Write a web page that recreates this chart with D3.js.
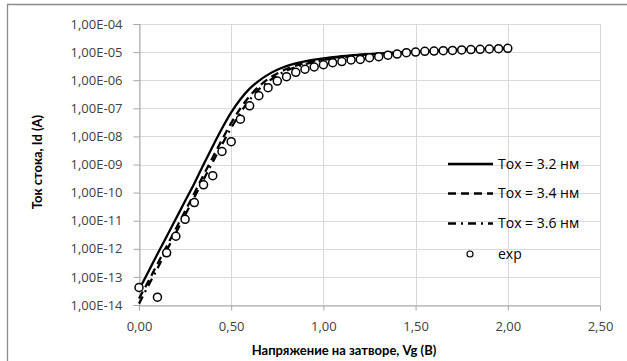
<!DOCTYPE html>
<html><head><meta charset="utf-8">
<script src="https://cdn.jsdelivr.net/npm/d3@7"></script>
<style>
html,body{margin:0;padding:0;background:#fff;}
svg{display:block;font-family:"Open Sans",Lato,sans-serif;}
</style></head>
<body><svg id="c" width="627" height="361"></svg>
<script>
// ---- data ----
const vg = [0.00,0.05,0.10,0.15,0.20,0.25,0.30,0.35,0.40,0.45,0.50,0.55,0.60,0.65,0.70,0.75,0.80,0.85,0.90,0.95,
            1.00,1.05,1.10,1.15,1.20,1.25,1.30,1.35,1.40,1.45,1.50,1.55,1.60,1.65,1.70,1.75,1.80,1.85,1.90,1.95,2.00];
const tox32 = [3.5e-14,1.5e-13,6.5e-13,2.75e-12,1.17e-11,5.0e-11,2.1e-10,1.0e-9,4.5e-9,1.9e-8,7.1e-8,2.1e-7,5.0e-7,9.5e-7,1.58e-6,2.35e-6,3.16e-6,3.98e-6,4.68e-6,5.37e-6,
               6.0e-6,6.6e-6,7.2e-6,7.7e-6,8.1e-6,8.5e-6,8.9e-6,9.3e-6,9.8e-6,1.01e-5,1.05e-5,1.08e-5,1.12e-5,1.15e-5,1.17e-5,1.20e-5,1.24e-5,1.27e-5,1.30e-5,1.33e-5,1.36e-5];
const tox34 = [1.7e-14,6.8e-14,2.9e-13,1.23e-12,5.2e-12,2.2e-11,9.5e-11,4.2e-10,1.8e-9,7.6e-9,3.0e-8,1.0e-7,2.7e-7,6.0e-7,1.1e-6,1.74e-6,2.5e-6,3.3e-6,4.1e-6,4.85e-6,
               5.55e-6,6.25e-6,6.85e-6,7.4e-6,7.95e-6,8.3e-6,8.7e-6,9.1e-6,9.55e-6,1.0e-5,1.035e-5,1.07e-5,1.11e-5,1.135e-5,1.16e-5,1.19e-5,1.23e-5,1.26e-5,1.29e-5,1.32e-5,1.35e-5];
const tox36 = [1.12e-14,4.8e-14,2.0e-13,8.7e-13,3.7e-12,1.58e-11,6.8e-11,2.9e-10,1.23e-9,5.1e-9,2.0e-8,6.9e-8,2.0e-7,4.7e-7,8.9e-7,1.48e-6,2.2e-6,2.95e-6,3.7e-6,4.45e-6,
               5.2e-6,5.9e-6,6.55e-6,7.1e-6,7.7e-6,8.1e-6,8.5e-6,8.9e-6,9.3e-6,9.8e-6,1.01e-5,1.05e-5,1.08e-5,1.12e-5,1.15e-5,1.17e-5,1.22e-5,1.245e-5,1.27e-5,1.30e-5,1.33e-5];
const expVg = [0.00,0.10,0.15,0.20,0.25,0.30,0.35,0.40,0.45,0.50,0.55,0.60,0.65,0.70,0.75,0.80,0.85,0.90,0.95,
               1.00,1.05,1.10,1.15,1.20,1.25,1.30,1.35,1.40,1.45,1.50,1.55,1.60,1.65,1.70,1.75,1.80,1.85,1.90,1.95,2.00];
const expId = [4.2e-14,1.9e-14,7.2e-13,2.8e-12,1.12e-11,4.4e-11,1.9e-10,4.0e-10,2.9e-9,6.5e-9,4.1e-8,1.23e-7,2.8e-7,5.4e-7,9.3e-7,1.33e-6,1.9e-6,2.45e-6,2.95e-6,
               3.55e-6,4.2e-6,4.6e-6,5.25e-6,5.5e-6,6.3e-6,6.9e-6,7.8e-6,8.5e-6,9.5e-6,1.0e-5,1.07e-5,1.09e-5,1.12e-5,1.15e-5,1.19e-5,1.23e-5,1.26e-5,1.29e-5,1.32e-5,1.36e-5];
const xTicks = [0,0.5,1.0,1.5,2.0,2.5];
const xTickLabels = ["0,00","0,50","1,00","1,50","2,00","2,50"];
const yTicks = [1e-14,1e-13,1e-12,1e-11,1e-10,1e-9,1e-8,1e-7,1e-6,1e-5,1e-4];
const yTickLabels = ["1,00E-14","1,00E-13","1,00E-12","1,00E-11","1,00E-10","1,00E-09","1,00E-08","1,00E-07","1,00E-06","1,00E-05","1,00E-04"];
const seriesNames = ["Tox = 3.2 нм","Tox = 3.4 нм","Tox = 3.6 нм","exp"];
const xTitle = "Напряжение на затворе, Vg (В)";
const yTitle = "Ток стока, Id (A)";

// ---- drawing ----
const svg = d3.select("#c");
const L = 139, R = 600, T = 24, B = 305;
const x = d3.scaleLinear().domain([0,2.5]).range([L,R]);
const y = d3.scaleLog().domain([1e-14,1e-4]).range([B,T]);

// outer frame
svg.append("path").attr("d","M7.5,361V4.5H627").attr("fill","none").attr("stroke","#8a8a8a").attr("stroke-width",1.3);

// gridlines
const g = svg.append("g");
g.selectAll("line.h").data(yTicks).join("line")
  .attr("x1",L).attr("x2",R).attr("y1",d=>Math.round(y(d))+0.5).attr("y2",d=>Math.round(y(d))+0.5)
  .attr("stroke","#d9d9d9").attr("stroke-width",1);
g.selectAll("line.v").data(xTicks).join("line")
  .attr("y1",T).attr("y2",B).attr("x1",d=>Math.round(x(d))+0.5).attr("x2",d=>Math.round(x(d))+0.5)
  .attr("stroke","#d9d9d9").attr("stroke-width",1);

// axes
const xAxis = d3.axisBottom(x).tickValues(xTicks).tickFormat((d,i)=>xTickLabels[i]).tickSizeOuter(0).tickSize(5).tickPadding(11);
const yAxis = d3.axisLeft(y).tickValues(yTicks).tickFormat((d,i)=>yTickLabels[i]).tickSizeOuter(0).tickSize(6).tickPadding(11);
const gx = svg.append("g").attr("transform",`translate(0,${B+0.5})`).call(xAxis);
const gy = svg.append("g").attr("transform",`translate(${L+0.5},0)`).call(yAxis);
[gx,gy].forEach(a=>{
  a.selectAll("path,line").attr("stroke","#a6a6a6");
  a.selectAll("text").attr("fill","#404040").style("font-size","13px").style("font-family","'Open Sans',sans-serif");
});

// curves
const line = d3.line().x((d,i)=>x(vg[i])).y(d=>y(d)).curve(d3.curveMonotoneX);
const styles = [
  {data:tox32, dash:null},
  {data:tox34, dash:"8,5"},
  {data:tox36, dash:"8,5,2,5"}
];
styles.forEach(s=>{
  svg.append("path").datum(s.data).attr("d",line).attr("fill","none")
    .attr("stroke","#000").attr("stroke-width",2.3).attr("stroke-dasharray",s.dash);
});

// exp points
svg.append("g").selectAll("circle").data(expId).join("circle")
  .attr("cx",(d,i)=>x(expVg[i])).attr("cy",d=>y(d)).attr("r",4)
  .attr("fill","#fff").attr("stroke","#000").attr("stroke-width",1.5);

// legend
const legY = [164,193.5,223.5,254];
const lg = svg.append("g");
styles.forEach((s,i)=>{
  lg.append("line").attr("x1",448).attr("x2",493).attr("y1",legY[i]).attr("y2",legY[i])
    .attr("stroke","#000").attr("stroke-width",2.3).attr("stroke-dasharray",s.dash);
});
lg.append("circle").attr("cx",470).attr("cy",legY[3]).attr("r",3).attr("fill","#fff").attr("stroke","#000").attr("stroke-width",1.2);
seriesNames.forEach((n,i)=>{
  lg.append("text").attr("x",498).attr("y",legY[i]).attr("dy","0.35em")
    .style("font-size","14px").attr("fill","#000").text(n);
});

// titles
svg.append("text").attr("x",344).attr("y",355).attr("text-anchor","middle")
  .style("font-family","Lato,sans-serif").style("font-size","13px").style("font-weight","bold").attr("fill","#000").text(xTitle);
svg.append("text").attr("transform","translate(42,162) rotate(-90)").attr("text-anchor","middle")
  .style("font-family","Lato,sans-serif").style("font-size","13px").style("font-weight","bold").attr("fill","#000").text(yTitle);
</script></body></html>
